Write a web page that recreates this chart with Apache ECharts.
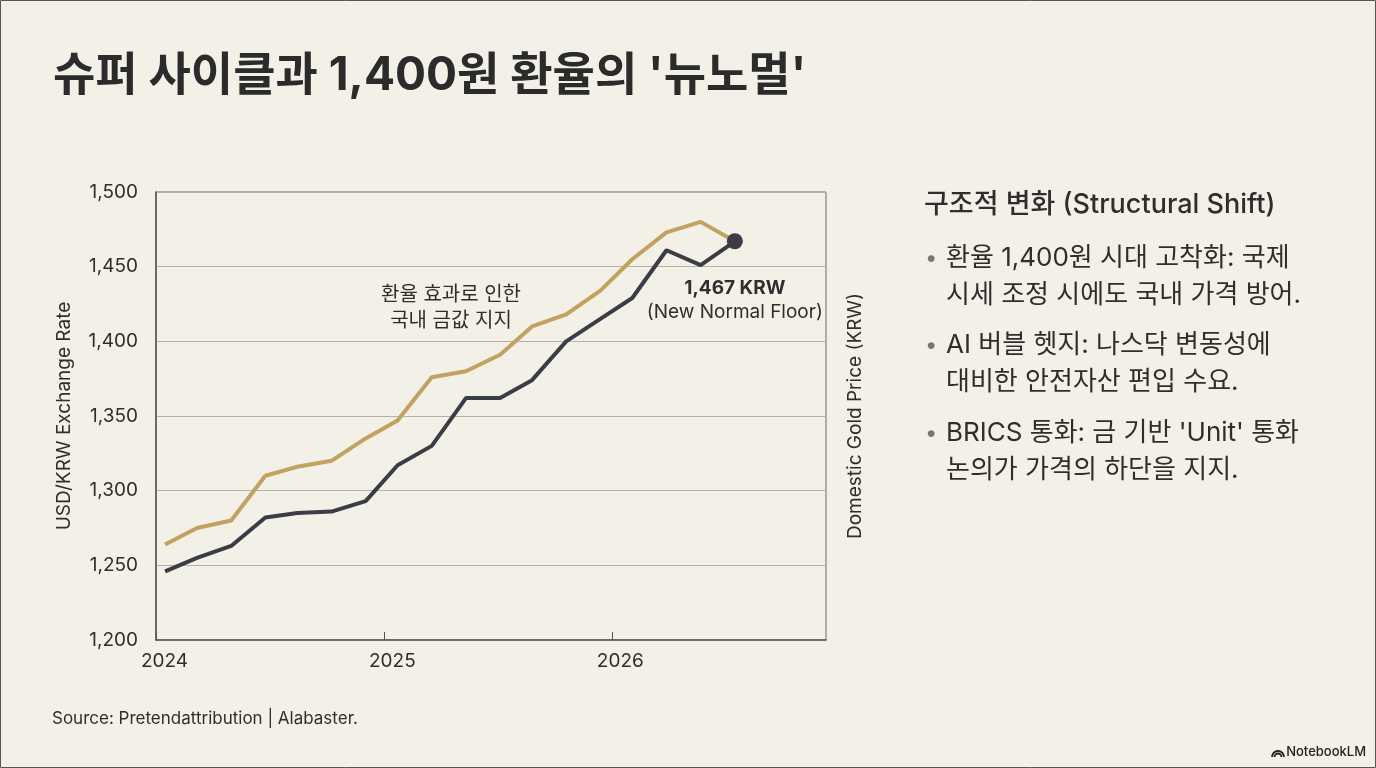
<!DOCTYPE html>
<html>
<head>
<meta charset="utf-8">
<title>슈퍼 사이클과 1,400원 환율의 '뉴노멀'</title>
<script src="https://cdn.jsdelivr.net/npm/echarts@6/dist/echarts.min.js"></script>
<style>
	html, body { margin: 0; padding: 0; background: #f3f1e7; }
	#main { width: 1376px; height: 768px; }
</style>
</head>
<body>
<div id="main"></div>
<script>
	// 시점(연 단위 소수) / 시리즈 값
	var dates = [2024.04, 2024.18, 2024.33, 2024.48, 2024.62, 2024.77, 2024.92, 2025.06, 2025.21,
		2025.36, 2025.51, 2025.65, 2025.80, 2025.95, 2026.09, 2026.24, 2026.39, 2026.54];
	var usdKrw = [1246, 1255, 1263, 1282, 1285, 1286, 1293, 1317, 1330,
		1362, 1362, 1374, 1400, 1415, 1429, 1461, 1451, 1467];
	var goldPrice = [1264, 1275, 1280, 1310, 1316, 1320, 1335, 1347, 1376,
		1380, 1391, 1410, 1418, 1434, 1455, 1473, 1480, 1467];

	// 축 범위
	var xMin = 2024, xMax = 2026.94, xStep = 1;
	var yMin = 1200, yMax = 1500, yStep = 50;

	// 오른쪽 설명 패널
	var panelTitle = '구조적 변화 (Structural Shift)';
	var bullets = [
		['환율 1,400원 시대 고착화: 국제', '시세 조정 시에도 국내 가격 방어.'],
		['AI 버블 헷지: 나스닥 변동성에', '대비한 안전자산 편입 수요.'],
		['BRICS 통화: 금 기반 \'Unit\' 통화', '논의가 가격의 하단을 지지.']
	];

	var FONT = 'Inter, "Noto Sans CJK KR", sans-serif';
	var TEXT = '#2e2e2e';

	function toPairs(xs, ys) {
		var arr = [];
		for (var i = 0; i < xs.length; i++) {
			arr.push([xs[i], ys[i]]);
		}
		return arr;
	}

	// 마지막 점에만 마커와 라벨
	function usdData() {
		var arr = toPairs(dates, usdKrw);
		var last = arr.length - 1;
		arr[last] = {
			value : arr[last],
			symbol : 'circle',
			symbolSize : 16,
			label : {
				show : true,
				position : 'bottom',
				distance : 27,
				formatter : function(p) {
					return '{b|' + echarts.format.addCommas(p.value[1]) + ' KRW}\n{n|(New Normal Floor)}';
				},
				rich : {
					b : { fontFamily : FONT, fontSize : 19, fontWeight : 'bold', color : TEXT, lineHeight : 24 },
					n : { fontFamily : FONT, fontSize : 19, color : TEXT, lineHeight : 24 }
				}
			}
		};
		return arr;
	}

	function panelGraphics() {
		var g = [];
		g.push({
			type : 'text', x : 924, y : 205,
			style : { text : panelTitle, font : '500 27px ' + FONT, fill : TEXT,
				align : 'left', verticalAlign : 'middle', textAlign : 'left', textVerticalAlign : 'middle' }
		});
		var tops = [258, 345, 433];
		for (var i = 0; i < bullets.length; i++) {
			g.push({
				type : 'text', x : 925, y : tops[i],
				style : { text : '•', font : '22px ' + FONT, fill : '#777',
					align : 'left', verticalAlign : 'middle', textAlign : 'left', textVerticalAlign : 'middle' }
			});
			for (var j = 0; j < bullets[i].length; j++) {
				g.push({
					type : 'text', x : 946, y : tops[i] + j * 37,
					style : { text : bullets[i][j], font : '26px ' + FONT, fill : TEXT,
						align : 'left', verticalAlign : 'middle', textAlign : 'left', textVerticalAlign : 'middle' }
				});
			}
		}
		return g;
	}

	// 우측 하단 로고 아이콘 (동심 호)
	function logoGraphics() {
		var g = [];
		var radii = [6, 3.5];
		for (var i = 0; i < radii.length; i++) {
			g.push({
				type : 'arc',
				shape : { cx : 1278, cy : 757, r : radii[i], startAngle : Math.PI, endAngle : Math.PI * 2 },
				style : { stroke : '#222', fill : 'none', lineWidth : 1.8 }
			});
		}
		return g;
	}

	var myChart = echarts.init(document.getElementById('main'), null, { renderer : 'canvas' });

	var option = {
		backgroundColor : '#f3f1e7',
		animation : false,
		title : {
			text : "슈퍼 사이클과 1,400원 환율의 '뉴노멀'",
			left : 48, top : 48,
			textStyle : { fontFamily : FONT, fontSize : 46, fontWeight : 'bold', color : '#2b2b2b' }
		},
		grid : {
			left : 156, right : 550, top : 192, bottom : 128,
			show : true, borderColor : '#6b6b66', borderWidth : 1, backgroundColor : 'transparent'
		},
		xAxis : {
			type : 'value',
			min : xMin, max : xMax, interval : xStep,
			axisLine : { show : true, lineStyle : { color : '#55554f', width : 1.5 } },
			axisTick : { show : true, inside : true, length : 8, lineStyle : { color : '#55554f' } },
			splitLine : { show : false },
			axisLabel : {
				margin : 12, padding : [0, 0, 0, 17],
				showMaxLabel : false,
				fontFamily : FONT, fontSize : 19, color : TEXT,
				formatter : function(v) { return String(v); }
			}
		},
		yAxis : [ {
			type : 'value',
			min : yMin, max : yMax, interval : yStep,
			name : 'USD/KRW Exchange Rate',
			nameLocation : 'middle', nameGap : 82, nameRotate : 90,
			nameTextStyle : { fontFamily : FONT, fontSize : 19, color : TEXT },
			axisLine : { show : true, lineStyle : { color : '#55554f', width : 1.5 } },
			axisTick : { show : false },
			splitLine : { show : true, lineStyle : { color : '#b4b2a8', width : 1 } },
			axisLabel : { margin : 18, fontFamily : FONT, fontSize : 19, color : TEXT }
		}, {
			type : 'value',
			position : 'right',
			min : yMin, max : yMax, interval : yStep,
			name : 'Domestic Gold Price (KRW)',
			nameLocation : 'middle', nameGap : 20, nameRotate : 90,
			nameTextStyle : { fontFamily : FONT, fontSize : 19, color : TEXT },
			axisLine : { show : false },
			axisTick : { show : false },
			splitLine : { show : false },
			axisLabel : { show : false }
		} ],
		series : [ {
			name : 'Domestic Gold Price (KRW)',
			type : 'line',
			yAxisIndex : 1,
			symbol : 'none',
			lineStyle : { color : '#c3a160', width : 4 },
			itemStyle : { color : '#c3a160' },
			z : 2,
			data : toPairs(dates, goldPrice)
		}, {
			name : 'USD/KRW Exchange Rate',
			type : 'line',
			yAxisIndex : 0,
			symbol : 'none',
			lineStyle : { color : '#3a3d43', width : 4 },
			itemStyle : { color : '#3a3d43' },
			z : 3,
			data : usdData()
		} ],
		graphic : [ {
			type : 'text', x : 451, y : 308,
			style : { text : '환율 효과로 인한\n국내 금값 지지', font : '20px ' + FONT, fill : TEXT, lineHeight : 26,
				align : 'center', verticalAlign : 'middle', textAlign : 'center', textVerticalAlign : 'middle' }
		}, {
			type : 'text', x : 52, y : 719,
			style : { text : 'Source: Pretendattribution | Alabaster.', font : '17px ' + FONT, fill : TEXT,
				align : 'left', verticalAlign : 'middle', textAlign : 'left', textVerticalAlign : 'middle' }
		}, {
			type : 'text', x : 1366, y : 752,
			style : { text : 'NotebookLM', font : '500 13px ' + FONT, fill : '#222',
				align : 'right', verticalAlign : 'middle', textAlign : 'right', textVerticalAlign : 'middle' }
		}, {
			type : 'rect', shape : { x : 0.5, y : 0.5, width : 1375, height : 767 },
			style : { fill : 'none', stroke : '#555', lineWidth : 1 }
		} ].concat(panelGraphics(), logoGraphics())
	};

	myChart.setOption(option, true);
</script>
</body>
</html>
